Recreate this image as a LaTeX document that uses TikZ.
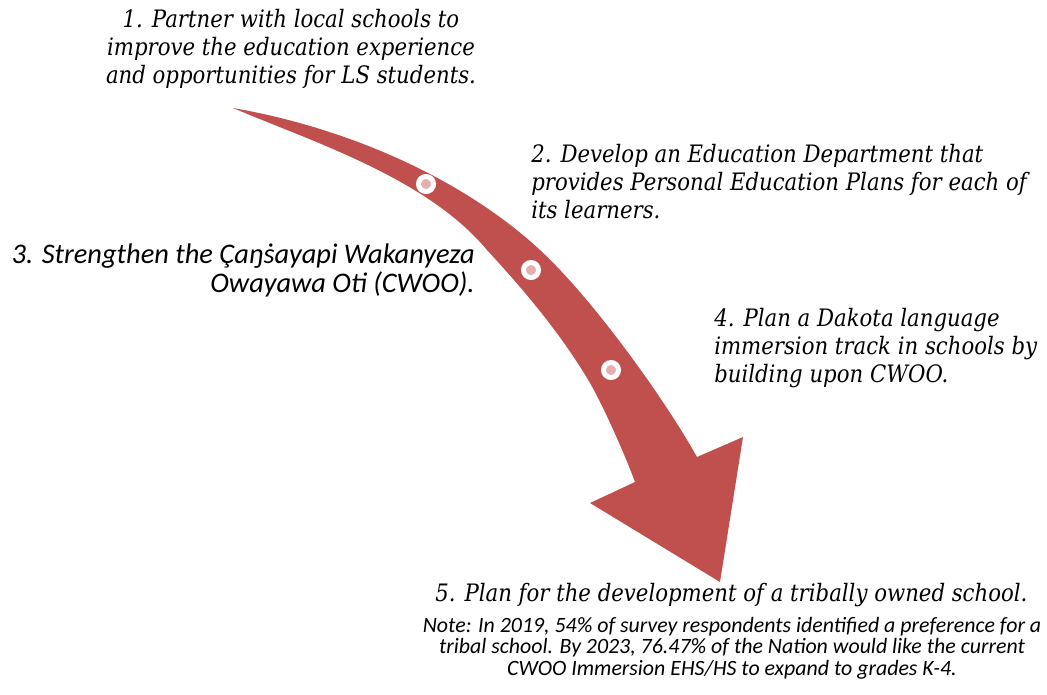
\documentclass[tikz,border=0pt]{standalone}
\usepackage{fontspec}
\setmainfont{Carlito}
\newfontfamily\goalfont[FakeStretch=0.885]{DejaVu Serif}
\usetikzlibrary{positioning}
\definecolor{arrowred}{HTML}{C0504D}
\colorlet{dotpink}{arrowred!45!white}

\begin{document}
\begin{tikzpicture}[x=0.75pt,y=-0.75pt,
    goal/.style={font=\goalfont\itshape\fontsize{18}{21}\selectfont,inner sep=0pt},
    goalcw/.style={font=\itshape\fontsize{21.3}{21.75}\selectfont,inner sep=0pt},
    note/.style={font=\itshape\fontsize{16.4}{16.1}\selectfont,inner sep=0pt},
    dot/.style={circle,fill=dotpink,draw=white,line width=3.75pt,minimum size=11.25pt,inner sep=0pt}
  ]
\useasboundingbox (0,0) rectangle (1047,694);

% the curved arrow
\fill[arrowred] (233,108) .. controls (343,127) and (460,176) .. (540,250)
  .. controls (595,301) and (667,403) .. (697,457)
  -- (743,437) -- (720,582) -- (590,503) -- (635,482)
  .. controls (627,460) and (605,409) .. (590,383)
  .. controls (560,332) and (522,288) .. (487,250)
  .. controls (427,178) and (313,142) .. (233,108) -- cycle;

\node[dot] (d1) at (426,184) {};
\node[dot] (d2) at (531,270) {};
\node[dot] (d3) at (611,370) {};

% steps (base = last line)
\node[goal,anchor=base,align=center] (g1) at (291,83) {1. Partner with local schools to\\improve the education experience\\and opportunities for LS students.};
\node[goal,anchor=base west,align=left] (g2) at (531,218) {2. Develop an Education Department that\\provides Personal Education Plans for each of\\its learners.};
\node[goalcw,anchor=base east,align=right] (g3) at (475,292) {3. Strengthen the Çaŋṡayapi Wakanyeza\\Owayawa Oti (CWOO).};
\node[goal,anchor=base west,align=left] (g4) at (714,382) {4. Plan a Dakota language\\immersion track in schools by\\building upon CWOO.};
\node[goal,anchor=base west] (g5) at (435,601) {5. Plan for the development of a tribally owned school.};

\node[note,anchor=base,align=center] (nt) at (732,675) {Note: In 2019, 54\% of survey respondents identified a preference for a\\tribal school. By 2023, 76.47\% of the Nation would like the current\\CWOO Immersion EHS/HS to expand to grades K-4.};
\end{tikzpicture}
\end{document}
